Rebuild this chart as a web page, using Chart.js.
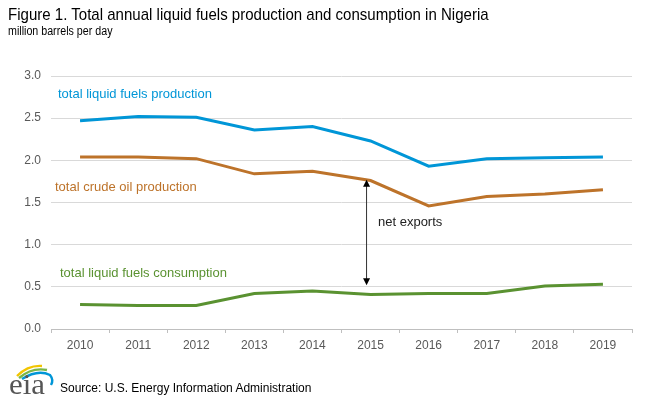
<!DOCTYPE html>
<html>
<head>
<meta charset="utf-8">
<script src="https://cdn.jsdelivr.net/npm/chart.js@4/dist/chart.umd.min.js"></script>
<style>
  body { margin: 0; background: #fff; font-family: 'Liberation Sans', Arial, sans-serif; }
  #wrap { position: relative; width: 649px; height: 398px; overflow: hidden; }
  #chartDemo { position: absolute; left: 0; top: 0; }
  .title { position: absolute; left: 8px; top: 5px; font-size: 17px; color: #000; white-space: nowrap; transform: scaleX(0.885); transform-origin: left top; }
  .units { position: absolute; left: 8px; top: 24px; font-size: 12px; color: #000; white-space: nowrap; transform: scaleX(0.89); transform-origin: left top; }
  .source { position: absolute; left: 60px; top: 381px; font-size: 12px; color: #000; white-space: nowrap; }
  #logo { position: absolute; left: 8px; top: 362px; }
</style>
</head>
<body>
<div id="wrap">
  <canvas id="chartDemo" width="649" height="398"></canvas>
  <div class="title">Figure 1. Total annual liquid fuels production and consumption in Nigeria</div>
  <div class="units">million barrels per day</div>
  <svg id="logo" width="48" height="36" viewBox="0 0 48 36">
    <path d="M9 14 Q20 3 34 4" stroke="#f2c500" stroke-width="2.4" fill="none"/>
    <path d="M11 16 Q24 5 39 8" stroke="#7ab648" stroke-width="2.4" fill="none"/>
    <path d="M14 17 Q30 7 42 13 Q46 18 43 23" stroke="#0096d7" stroke-width="2.4" fill="none"/>
    <text x="1" y="32" font-family="'Liberation Serif', 'DejaVu Serif', serif" font-size="29" fill="#555" textLength="36" lengthAdjust="spacingAndGlyphs">eia</text>
  </svg>
  <div class="source">Source: U.S. Energy Information Administration</div>
</div>
<script>
'use strict';

let years = ['2010', '2011', '2012', '2013', '2014', '2015', '2016', '2017', '2018', '2019'];
let liquidsProduction = [2.47, 2.52, 2.51, 2.36, 2.40, 2.23, 1.93, 2.02, 2.03, 2.04];
let crudeProduction = [2.04, 2.04, 2.02, 1.84, 1.87, 1.76, 1.46, 1.57, 1.60, 1.65];
let liquidsConsumption = [0.29, 0.28, 0.28, 0.42, 0.45, 0.41, 0.42, 0.42, 0.51, 0.53];
let yTicks = [0, 0.5, 1.0, 1.5, 2.0, 2.5, 3.0];

// net exports arrow: year index, top value, bottom value
let arrowYear = 5;
let arrowRange = [1.77, 0.52];

let blue = '#0096d7';
let brown = '#bd732a';
let green = '#5a9231';

// line labels drawn on the chart
let lineLabels = [
  { text: 'total liquid fuels production', x: 58, y: 94, color: blue },
  { text: 'total crude oil production', x: 55, y: 187, color: brown },
  { text: 'total liquid fuels consumption', x: 60, y: 273, color: green },
  { text: 'net exports', x: 378, y: 222, color: '#222' }
];

const labelPlugin = {
  id: 'labelPlugin',
  afterDatasetsDraw(chart) {
    let ctx = chart.ctx;
    let xs = chart.scales.x;
    let ys = chart.scales.y;
    ctx.save();
    ctx.font = '13px "Liberation Sans", Arial, sans-serif';
    ctx.textBaseline = 'middle';
    ctx.textAlign = 'left';
    for (let i = 0; i < lineLabels.length; i++) {
      ctx.fillStyle = lineLabels[i].color;
      ctx.fillText(lineLabels[i].text, lineLabels[i].x, lineLabels[i].y);
    }

    // double arrow
    let ax = xs.getPixelForValue(arrowYear) - 4;
    let top = ys.getPixelForValue(arrowRange[0]);
    let bot = ys.getPixelForValue(arrowRange[1]);
    ctx.strokeStyle = '#333';
    ctx.fillStyle = '#000';
    ctx.lineWidth = 1;
    ctx.beginPath();
    ctx.moveTo(ax, top + 6);
    ctx.lineTo(ax, bot - 6);
    ctx.stroke();
    ctx.beginPath();
    ctx.moveTo(ax, top);
    ctx.lineTo(ax - 3.5, top + 7);
    ctx.lineTo(ax + 3.5, top + 7);
    ctx.closePath();
    ctx.fill();
    ctx.beginPath();
    ctx.moveTo(ax, bot);
    ctx.lineTo(ax - 3.5, bot - 7);
    ctx.lineTo(ax + 3.5, bot - 7);
    ctx.closePath();
    ctx.fill();
    ctx.restore();
  }
};

const ctx = document.getElementById('chartDemo');

new Chart(ctx, {
  type: 'line',
  data: {
    labels: years,
    datasets: [
      {
        label: 'total liquid fuels production',
        data: liquidsProduction,
        borderColor: blue,
        borderWidth: 3,
        pointRadius: 0,
        tension: 0,
      },
      {
        label: 'total crude oil production',
        data: crudeProduction,
        borderColor: brown,
        borderWidth: 3,
        pointRadius: 0,
        tension: 0,
      },
      {
        label: 'total liquid fuels consumption',
        data: liquidsConsumption,
        borderColor: green,
        borderWidth: 3,
        pointRadius: 0,
        tension: 0,
      },
    ],
  },
  options: {
    responsive: false,
    animation: false,
    layout: { padding: { left: 0, top: 76, right: 17, bottom: 39 } },
    plugins: {
      legend: { display: false },
      tooltip: { enabled: false },
    },
    scales: {
      x: {
        offset: true,
        afterFit: (s) => { s.height = 30; },
        grid: { display: true, drawOnChartArea: false, drawTicks: true, tickLength: 4, color: '#bfbfbf', offset: true },
        border: { color: '#bfbfbf' },
        ticks: { color: '#595959', font: { family: 'Liberation Sans', size: 12 }, padding: 5, maxRotation: 0 },
      },
      y: {
        min: 0,
        max: 3,
        afterFit: (s) => { s.width = 51; },
        afterBuildTicks: (s) => { s.ticks = yTicks.map(v => ({ value: v })); },
        grid: { color: '#d9d9d9', drawTicks: false },
        border: { display: false },
        ticks: {
          color: '#595959',
          font: { family: 'Liberation Sans', size: 12 },
          padding: 10,
          callback: (v) => Number(v).toFixed(1),
        },
      },
    },
  },
  plugins: [labelPlugin],
});
</script>
</body>
</html>
